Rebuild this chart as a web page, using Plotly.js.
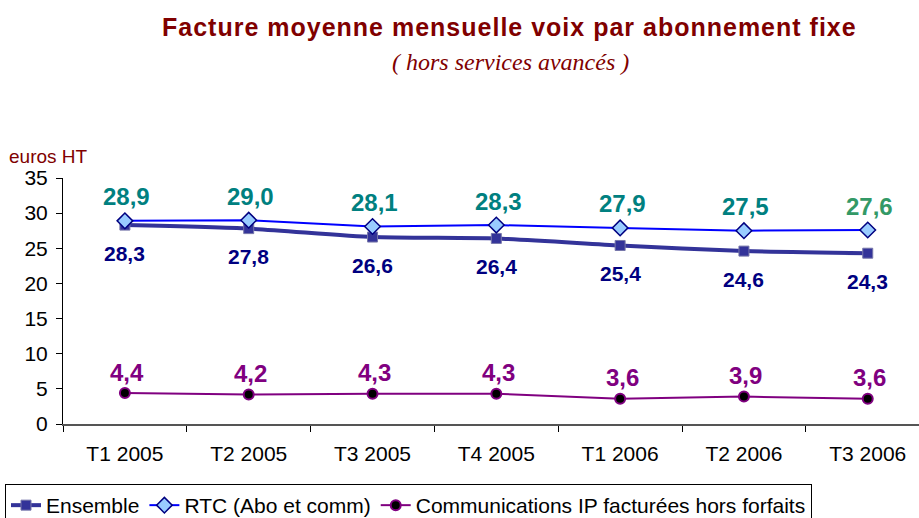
<!DOCTYPE html>
<html><head><meta charset="utf-8">
<script src="https://cdn.plot.ly/plotly-3.0.1.min.js"></script>
<style>html,body{margin:0;padding:0;background:#fff}#chart{width:919px;height:518px}</style>
</head><body><div id="chart"></div>
<script>
const categories = ["T1 2005","T2 2005","T3 2005","T4 2005","T1 2006","T2 2006","T3 2006"];
const ensemble = [28.3, 27.8, 26.6, 26.4, 25.4, 24.6, 24.3];
const rtc = [28.9, 29.0, 28.1, 28.3, 27.9, 27.5, 27.6];
const ip = [4.4, 4.2, 4.3, 4.3, 3.6, 3.9, 3.6];
const yTicks = [0,5,10,15,20,25,30,35];

const fmt = v => v.toFixed(1).replace('.', ',');
const F = 'Liberation Sans, Arial, sans-serif';
const L = 63, T = 178, B = 424, W = 919;
const px = x => (x - L) / (W - L);
const py = y => (B - y) / (B - T);
const DARKRED = '#800000';

const traces = [
  {x: categories, y: ensemble, name: 'Ensemble', mode: 'lines+markers', line: {color: '#333399', width: 4, shape: 'spline', smoothing: 0.6},
   marker: {symbol: 'square', size: 10, color: '#333399', line: {color: '#7777aa', width: 1}}},
  {x: categories, y: rtc, name: 'RTC (Abo et comm)', mode: 'lines+markers', line: {color: '#0000ff', width: 2},
   marker: {symbol: 'diamond', size: 12, color: '#99ccff', line: {color: '#000080', width: 1.5}}},
  {x: categories, y: ip, name: 'Communications IP facturées hors forfaits', mode: 'lines+markers', line: {color: '#800080', width: 2},
   marker: {symbol: 'circle', size: 10, color: '#000000', line: {color: '#800080', width: 2}}}
];

const annotations = [];
categories.forEach((c, i) => {
  annotations.push({x: c, y: ensemble[i], text: fmt(ensemble[i]), showarrow: false, yshift: -28,
    font: {family: F, size: 21, color: '#000080', weight: 'bold'}});
  annotations.push({x: c, y: rtc[i], text: fmt(rtc[i]), showarrow: false, yshift: 24, xshift: 2,
    font: {family: F, size: 24, color: i === categories.length - 1 ? '#339966' : '#008080', weight: 'bold'}});
  annotations.push({x: c, y: ip[i], text: fmt(ip[i]), showarrow: false, yshift: 21, xshift: 2,
    font: {family: F, size: 24, color: '#800080', weight: 'bold'}});
});
annotations.push({xref: 'paper', yref: 'paper', x: px(509), y: py(27), yanchor: 'middle',
  text: '<b><span style="letter-spacing:1px">Facture moyenne mensuelle voix par abonnement fixe</span></b>',
  showarrow: false, font: {family: F, size: 25, color: DARKRED}});
annotations.push({xref: 'paper', yref: 'paper', x: px(510), y: py(62), yanchor: 'middle', text: '<i>( hors services avancés )</i>',
  showarrow: false, font: {family: 'Liberation Serif, Times New Roman, serif', size: 24, color: DARKRED}});
annotations.push({xref: 'paper', yref: 'paper', x: px(7), xanchor: 'left', y: py(157), yanchor: 'middle', text: 'euros HT',
  showarrow: false, font: {family: F, size: 19, color: DARKRED}});

const layout = {
  width: 919, height: 518,
  margin: {l: L, r: 0, t: T, b: 518 - B},
  paper_bgcolor: '#fff', plot_bgcolor: '#fff',
  showlegend: true,
  font: {family: F, color: '#000'},
  xaxis: {type: 'category', range: [-0.5, 6.414], showgrid: false, zeroline: false,
    showline: true, linecolor: '#555', linewidth: 1.5, ticks: 'outside', tickson: 'boundaries', ticklen: 6, tickcolor: '#000',
    ticklabelstandoff: 10,
    tickfont: {family: F, size: 21, color: '#000'}, fixedrange: true},
  yaxis: {range: [0, 35], tickvals: yTicks, showgrid: false, zeroline: false,
    showline: true, linecolor: '#000', linewidth: 1, ticks: 'outside', ticklen: 6, tickcolor: '#000',
    ticklabelstandoff: 4,
    tickfont: {family: F, size: 21, color: '#000'}, fixedrange: true},
  legend: {orientation: 'h', xref: 'container', yref: 'container', x: 5/919, y: 1 - 484/518, xanchor: 'left', yanchor: 'top',
    bordercolor: '#000', borderwidth: 1, bgcolor: '#fff', font: {family: F, size: 21, color: '#000'},
    itemwidth: 30, tracegroupgap: 0},
  annotations: annotations
};
Plotly.newPlot('chart', traces, layout, {displayModeBar: false, staticPlot: true});
</script></body></html>
